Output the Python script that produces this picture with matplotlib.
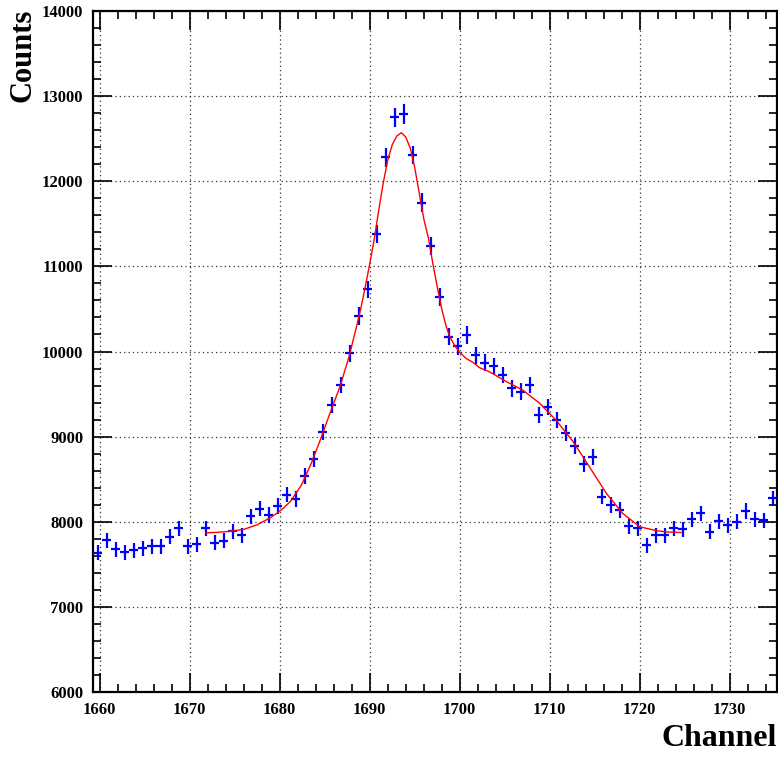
import numpy as np
import matplotlib
matplotlib.use("Agg")
import matplotlib.pyplot as plt
from matplotlib.ticker import MultipleLocator

plt.rcParams['font.family'] = ['Liberation Serif', 'DejaVu Serif']

# histogram bin centres (bins of width 1, range 1659.25 - 1735.25)
first_center = 1659.75
counts = [7635, 7784, 7675, 7640, 7667, 7690, 7714, 7714, 7823, 7921,
          7714, 7737, 7921, 7753, 7776, 7890, 7843, 8062, 8155, 8078,
          8184, 8320, 8266, 8536, 8732, 9050, 9371, 9606, 9978, 10416,
          10730, 11380, 12281, 12751, 12790, 12308, 11748, 11239, 10643, 10173,
          10064, 10193, 9958, 9868, 9829, 9723, 9567, 9527, 9606, 9253,
          9350, 9194, 9038, 8889, 8677, 8756, 8295, 8196, 8137, 7949,
          7922, 7725, 7843, 7843, 7922, 7910, 8027, 8098, 7882, 8007,
          7960, 8000, 8128, 8027, 8019, 8274]

# fit curve
fit_x = [1671.8, 1673.0, 1674.5, 1676.0, 1677.5, 1679.0, 1680.2, 1681.2, 1682.4, 1683.5,
         1684.5, 1685.7, 1686.7, 1687.7, 1688.5, 1689.0, 1689.5, 1690.0, 1690.5, 1691.0,
         1691.5, 1692.0, 1692.5, 1693.0, 1693.5, 1694.0, 1694.5, 1695.0, 1695.5, 1696.0,
         1696.5, 1697.0, 1697.5, 1698.0, 1698.5, 1699.0, 1699.5, 1700.0, 1700.7, 1701.5,
         1702.2, 1703.3, 1705.2, 1707.0, 1708.9, 1710.7, 1712.6, 1714.4, 1716.3, 1718.1,
         1720.0, 1721.9, 1723.0, 1724.6]
fit_y = [7870, 7875, 7888, 7910, 7965, 8050, 8140, 8240, 8430, 8685,
         8960, 9310, 9590, 9940, 10280, 10500, 10760, 11030, 11320, 11660,
         11980, 12250, 12430, 12530, 12570, 12520, 12390, 12160, 11860, 11560,
         11340, 11040, 10760, 10500, 10290, 10150, 10060, 9990, 9919, 9870,
         9810, 9762, 9645, 9547, 9390, 9194, 8940, 8646, 8333, 8098,
         7941, 7894, 7880, 7874]

x = first_center + np.arange(len(counts))
y = np.array(counts, dtype=float)
yerr = np.sqrt(y)

fig = plt.figure(figsize=(7.78, 7.6), dpi=100)
ax = fig.add_axes([93/778, 68/760, 684/778, 681/760])

ax.errorbar(x, y, xerr=0.5, yerr=yerr, fmt='none', ecolor='#0000ff',
            elinewidth=1.6, capsize=0, zorder=3)
ax.plot(fit_x, fit_y, color='#ff0000', lw=1.0, zorder=4)

ax.set_xlim(1659.25, 1735.25)
ax.set_ylim(6000, 14000)

ax.xaxis.set_major_locator(MultipleLocator(10))
ax.xaxis.set_minor_locator(MultipleLocator(2))
ax.yaxis.set_major_locator(MultipleLocator(1000))
ax.yaxis.set_minor_locator(MultipleLocator(200))

ax.grid(True, which='major', color='#333333', linestyle=(0, (1, 2.5)), lw=0.9)
ax.tick_params(which='both', direction='in', top=True, right=True,
               width=1.2, labelsize=12, pad=7)
ax.tick_params(which='major', length=14)
ax.tick_params(which='minor', length=6)
for lab in ax.get_xticklabels() + ax.get_yticklabels():
    lab.set_fontweight('bold')
for sp in ax.spines.values():
    sp.set_linewidth(1.6)

fig.text(777/778, 1 - 738/760, 'Channel', ha='right', va='center',
         fontsize=23, fontweight='bold')
fig.text(23/778, 1 - 55/760, 'Counts', ha='center', va='center',
         rotation=90, fontsize=22, fontweight='bold')

fig.savefig('out.png', dpi=100)
